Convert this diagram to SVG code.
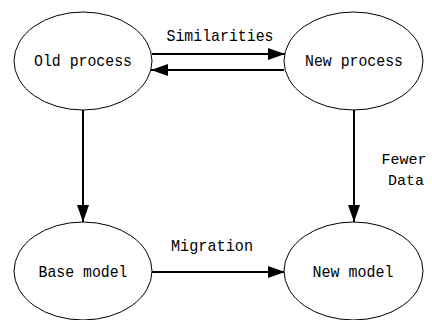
<svg xmlns="http://www.w3.org/2000/svg" width="432" height="320" viewBox="0 0 432 320">
<style>
.n{fill:#fff;stroke:#000;stroke-width:1}
.t{font-family:"Liberation Mono","DejaVu Sans Mono",monospace;font-size:17px;fill:#000}
.s{font-family:"Liberation Mono","DejaVu Sans Mono",monospace;font-size:15px;fill:#000}
.c{stroke:#000;stroke-width:2;fill:none;marker-end:url(#a)}
</style>
<defs>
<marker id="a" markerUnits="userSpaceOnUse" markerWidth="18" markerHeight="12" refX="17" refY="6" orient="auto">
<path d="M0,0 L17,6 L0,12 Z" fill="#000"/>
</marker>
</defs>
<rect width="432" height="320" fill="#fff"/>
<g id="connectors">
<line class="c" x1="152" y1="54" x2="285" y2="54"/>
<line class="c" x1="284" y1="70" x2="151" y2="70"/>
<line class="c" x1="83" y1="110" x2="83" y2="222"/>
<line class="c" x1="354" y1="110" x2="354" y2="222"/>
<line class="c" x1="152" y1="272" x2="285" y2="272"/>
<text class="t" x="220" y="41" text-anchor="middle" textLength="107" lengthAdjust="spacingAndGlyphs">Similarities</text>
<text class="t" x="212" y="251" text-anchor="middle" textLength="82" lengthAdjust="spacingAndGlyphs">Migration</text>
<text class="s" x="404" y="164" text-anchor="middle">Fewer</text>
<text class="s" x="406" y="185" text-anchor="middle">Data</text>
</g>
<g id="old">
<ellipse class="n" cx="83" cy="61" rx="69" ry="49"/>
<text class="t" x="83" y="66" text-anchor="middle" textLength="98" lengthAdjust="spacingAndGlyphs">Old process</text>
</g>
<g id="newp">
<ellipse class="n" cx="353.5" cy="61" rx="69.5" ry="49"/>
<text class="t" x="354" y="66" text-anchor="middle" textLength="98" lengthAdjust="spacingAndGlyphs">New process</text>
</g>
<g id="base">
<ellipse class="n" cx="83" cy="271" rx="69" ry="49"/>
<text class="t" x="83" y="277" text-anchor="middle" textLength="89" lengthAdjust="spacingAndGlyphs">Base model</text>
</g>
<g id="newm">
<ellipse class="n" cx="353.5" cy="271" rx="69.5" ry="49"/>
<text class="t" x="353" y="277" text-anchor="middle" textLength="81" lengthAdjust="spacingAndGlyphs">New model</text>
</g>
</svg>
